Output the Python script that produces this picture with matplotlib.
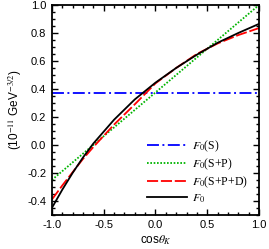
import numpy as np
import matplotlib
matplotlib.use('Agg')
import matplotlib.pyplot as plt
from matplotlib.ticker import MultipleLocator, FormatStrFormatter

plt.rcParams['font.family'] = ['Liberation Sans', 'DejaVu Sans']
plt.rcParams['mathtext.fontset'] = 'stix'
plt.rcParams['lines.scale_dashes'] = False

# values
cos_k = [-1.0, -0.9, -0.8, -0.7, -0.6, -0.4, -0.2, 0.0, 0.2, 0.4, 0.6, 0.8, 1.0]
f0_s = [0.372] * len(cos_k)
f0_sp = [-0.25, -0.1875, -0.125, -0.0625, 0.0, 0.125, 0.25, 0.375, 0.5, 0.625, 0.75, 0.875, 1.0]
f0_spd = [-0.39, -0.29, -0.195, -0.10, -0.015, 0.145, 0.29, 0.44, 0.55, 0.65, 0.725, 0.785, 0.835]
f0_full = [-0.45, -0.32, -0.20, -0.09, 0.01, 0.18, 0.325, 0.445, 0.55, 0.645, 0.73, 0.80, 0.865]

labels = [r'$F_0$(S)', r'$F_0$(S+P)', r'$F_0$(S+P+D)', r'$F_0$']

fig = plt.figure(figsize=(2.69, 2.49), dpi=100)
ax = fig.add_axes([0.193, 0.137, 0.77, 0.843])

ax.plot(cos_k, f0_s, color='#0000ff', lw=1.3, ls=(0, (8.6, 2.5, 1.4, 2.5)), label=labels[0])
ax.plot(cos_k, f0_sp, color='#00b400', lw=1.3, ls=(0, (1.2, 1.2)), label=labels[1])
ax.plot(cos_k, f0_spd, color='#ff0000', lw=1.3, ls=(0, (8.0, 2.0)), label=labels[2])
ax.plot(cos_k, f0_full, color='black', lw=1.3, label=labels[3])

ax.set_xlim(-1, 1)
ax.set_ylim(-0.5, 1.0)
ax.xaxis.set_major_locator(MultipleLocator(0.5))
ax.xaxis.set_minor_locator(MultipleLocator(0.1))
ax.yaxis.set_major_locator(MultipleLocator(0.2))
ax.yaxis.set_minor_locator(MultipleLocator(0.05))
ax.xaxis.set_major_formatter(FormatStrFormatter('%.1f'))
ax.yaxis.set_major_formatter(FormatStrFormatter('%.1f'))
ax.tick_params(which='both', direction='in', top=True, right=True, labelsize=8, width=1.0)
ax.tick_params(which='major', length=4, pad=4)
ax.tick_params(which='minor', length=2)
for s in ax.spines.values():
    s.set_linewidth(1.3)

ax.set_xlabel(r'cos$\theta_K$', fontsize=8.5, labelpad=2)
ax.set_ylabel(r'(10$^{-11}$ GeV$^{-3/2}$)', fontsize=8.5, labelpad=2)

leg = ax.legend(loc='upper left', bbox_to_anchor=(0.43, 0.39), frameon=False,
                prop={'family': 'Liberation Serif', 'size': 8.5}, handlelength=3.4,
                handletextpad=0.45, labelspacing=0.2, borderpad=0)

fig.savefig('out.png', dpi=100)
